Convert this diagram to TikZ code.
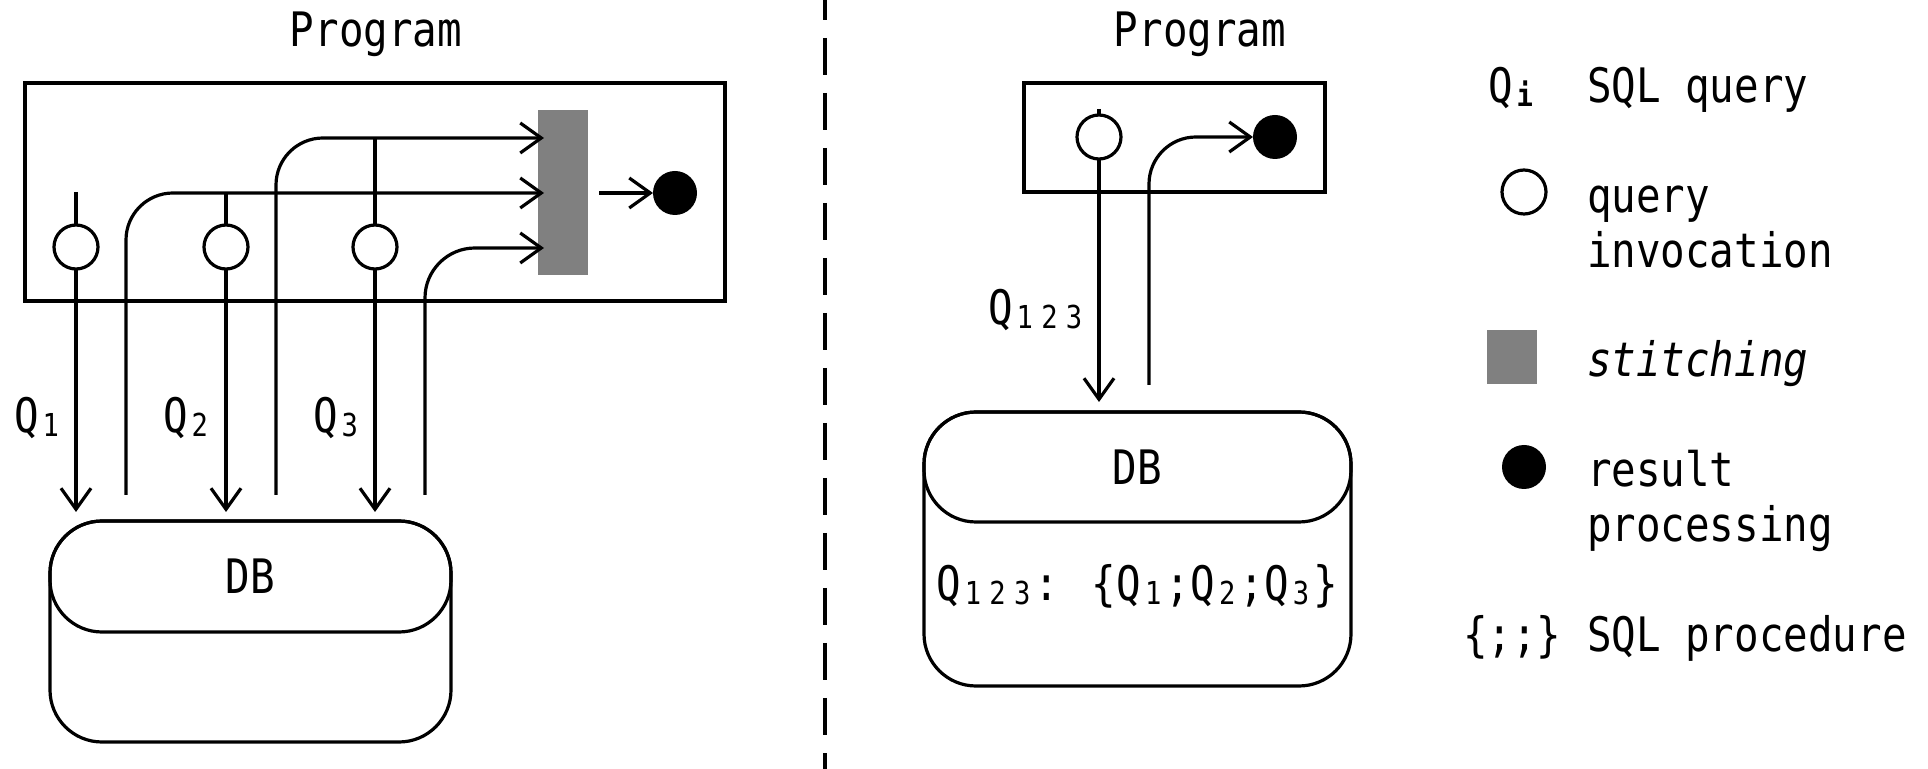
\documentclass[tikz,border=0pt]{standalone}
\usepackage{fontspec}
\usetikzlibrary{arrows.meta}
\newfontfamily\diagfont[FakeStretch=0.86]{DejaVu Sans Mono}
\definecolor{stitchgray}{HTML}{808080}
% subscript character occupying one full monospace cell
\newcommand\subdig[1]{\makebox[12.3pt][c]{\raisebox{-2pt}{\fontsize{15.8pt}{16pt}\selectfont #1}}}

\begin{document}
\begin{tikzpicture}[x=0.5pt,y=-0.5pt,line width=1.6pt,
  every node/.style={inner sep=0pt,outer sep=0pt},
  tip/.style={-{Straight Barb[length=10.5pt,width=15pt]}},
  prog/.style={draw,line width=1.9pt},
  dbpart/.style={draw,rounded corners=26pt},
  inv/.style={circle,draw,minimum size=22pt},
  res/.style={circle,fill=black,minimum size=22pt},
  dtext/.style={font=\diagfont\fontsize{23.75pt}{28pt}\selectfont},
  ltext/.style={dtext,anchor=base west},
  divider/.style={line width=1.7pt,dash pattern=on 18.5pt off 9pt,dash phase=8.5pt}
]
\useasboundingbox (0,0) rectangle (1928,769);

% ---------- left: one query per invocation ----------
\node[dtext,anchor=base] (titleL) at (376,47) {Program};
\node[prog,minimum width=350pt,minimum height=109pt] (progL) at (375,192) {};

\node[fill=stitchgray,minimum width=25pt,minimum height=82.5pt] (stitch) at (563,192.5) {};
\node[res] (resL) at (675,193) {};

\node[inv] (q1) at (76,247) {};
\node[inv] (q2) at (226,247) {};
\node[inv] (q3) at (375,247) {};

\node[dbpart,minimum width=200.5pt,minimum height=110.5pt] (dbL) at (250.5,631.5) {};
\node[dbpart,dtext,minimum width=200.5pt,minimum height=55.5pt] (dbLtop) at (250.5,576.5) {DB};

% stub lines above the invocations
\coordinate (u1) at (76,192);
\coordinate (u2) at (226,193);
\coordinate (u3) at (375,138);
\draw (u1) -- (q1.north);
\draw (u2) -- (q2.north);
\draw (u3) -- (q3.north);

% queries sent to the database
\coordinate (d1) at (76,512);
\coordinate (d2) at (226,512);
\coordinate (d3) at (375,512);
\draw[tip] (q1.south) -- (d1);
\draw[tip] (q2.south) -- (d2);
\draw[tip] (q3.south) -- (d3);

% results coming back into the stitching step
\coordinate (r1) at (126,495);
\coordinate (r2) at (276,495);
\coordinate (r3) at (425,495);
\coordinate (s1) at (544,193);
\coordinate (s2) at (544,138);
\coordinate (s3) at (544,248);
\draw[tip,rounded corners=23.5pt] (r1) |- (s1);
\draw[tip,rounded corners=23.5pt] (r2) |- (s2);
\draw[tip,rounded corners=25pt] (r3) |- (s3);

\coordinate (so) at (599,193);
\draw[tip] (so) -- (resL.west);

\node[dtext,anchor=base west] (lq1) at (14,433) {Q\subdig{1}};
\node[dtext,anchor=base west] (lq2) at (163,433) {Q\subdig{2}};
\node[dtext,anchor=base west] (lq3) at (313,433) {Q\subdig{3}};

% ---------- divider ----------
\coordinate (divtop) at (825,0);
\coordinate (divbot) at (825,769);
\draw[divider] (divtop) -- (divbot);

% ---------- right: one batched procedure call ----------
\node[dtext,anchor=base] (titleR) at (1200,47) {Program};
\node[prog,minimum width=150.5pt,minimum height=54.5pt] (progR) at (1174.5,137.5) {};
\node[inv] (qq) at (1099,137) {};
\node[res] (resR) at (1275,137) {};

\node[dbpart,minimum width=213.5pt,minimum height=137pt] (dbR) at (1137.5,549) {};
\node[dbpart,dtext,minimum width=213.5pt,minimum height=55pt] (dbRtop) at (1137.5,467) {DB};
\node[dtext,anchor=base] (proc) at (1137,601)
  {Q\subdig{1}\subdig{2}\subdig{3}: \{Q\subdig{1};Q\subdig{2};Q\subdig{3}\}};

\coordinate (uq) at (1099,109);
\draw (uq) -- (qq.north);
\coordinate (dq) at (1099,402);
\draw[tip] (qq.south) -- (dq);
\coordinate (rq) at (1149,385);
\draw[tip,rounded corners=23.5pt] (rq) |- (resR.west);

\node[dtext,anchor=base west] (lq123) at (988,325) {Q\subdig{1}\subdig{2}\subdig{3}};

% ---------- legend ----------
\node[ltext] (kq) at (1488,103) {Q\subdig{\bfseries i}};
\node[ltext] (kqt) at (1587,103) {SQL query};

\node[inv] (kinv) at (1524,192) {};
\node[ltext] (kinvt1) at (1587,213) {query};
\node[ltext] (kinvt2) at (1587,268) {invocation};

\node[fill=stitchgray,minimum width=25pt,minimum height=27pt] (kst) at (1512,357) {};
\node[ltext] (kstt) at (1587,377) {\itshape stitching};

\node[res] (kres) at (1524,467) {};
\node[ltext] (krest1) at (1587,487) {result};
\node[ltext] (krest2) at (1587,542) {processing};

\node[ltext] (kproc) at (1463,652) {\{;;\}};
\node[ltext] (kproct) at (1587,652) {SQL procedure};
\end{tikzpicture}
\end{document}
